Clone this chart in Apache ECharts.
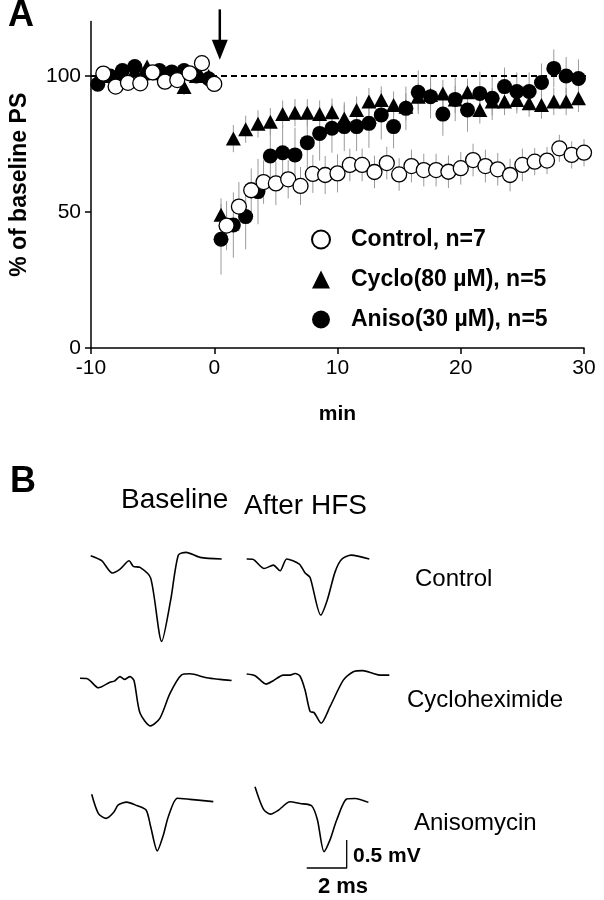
<!DOCTYPE html>
<html><head><meta charset="utf-8">
<script src="https://cdn.jsdelivr.net/npm/echarts@6/dist/echarts.min.js"></script>
<style>html,body{margin:0;padding:0;background:#fff}#c{width:604px;height:900px}</style>
</head><body><div id="c"></div>
<script>
// ---------- Panel A data ----------
const xTicks = [-10, 0, 10, 20, 30];
const yTicks = [0, 50, 100];
const ctrlTime = [-9,-8,-7,-6,-5,-4,-3,-2,-1,0,1,2,3,4,5,6,7,8,9,10,11,12,13,14,15,16,17,18,19,20,21,22,23,24,25,26,27,28,29,30];
const ctrlMean = [100.9,96.1,97.5,97.3,101.3,97.9,98.5,101,104.7,97.1,
  45,52,58,61,60.5,62,59.6,64,63.6,64.2,67.3,67.3,64.7,68,63.8,66.9,65.4,65.4,64.8,66.1,69.1,66.9,65.7,63.6,67.3,68.5,68.9,73.4,71,71.8];
const ctrlSem = [2,2,3,2,2,3,2,2,2,3,
  9,9,8,8,8,7,7,7,7,7,6,6,6,6,6,6,6,6,6,6,6,6,6,6,6,5,5,5,5,5];
const drugTime = [-9.45,-8.45,-7.45,-6.45,-5.45,-4.45,-3.45,-2.45,-1.45,-0.45,
  0.55,1.55,2.55,3.55,4.55,5.55,6.55,7.55,8.55,9.55,10.55,11.55,12.55,13.55,14.55,15.55,16.55,17.55,18.55,19.55,
  20.55,21.55,22.55,23.55,24.55,25.55,26.55,27.55,28.55,29.55];
const cycloMean = [99,100,101,102,103.5,101,100,96,100,100,
  49,77,80.4,82.4,83.2,86,86.5,86.5,86,86.7,84.4,87.5,90.6,91.2,89.3,88.7,92.4,93,93.6,91.4,
  94,87.5,90.6,90.6,91.2,90,89.3,90.6,90.6,91.8];
const cycloSem = [2,2,2,2,2,2,2,3,2,2,
  6,5,5,5,5,5,5,5,5,5,5,5,5,5,5,5,5,5,5,5,5,5,5,5,5,5,5,5,5,5];
const anisoMean = [97,100,102,103.5,101,102,101.5,102,100,99,
  40,45.2,48.3,57.5,70.6,71.8,71,75.5,78.9,80.8,81.4,81.4,82.6,85.7,81.4,88.1,94,92.4,86,91.4,
  87.5,93.6,91.8,96.1,94.3,94.3,97.6,102.8,100,99.1];
const anisoSem = [2,2,2,2,2,2,2,2,2,2,
  13,12,12,12,11,10,10,10,10,9,9,9,9,9,8,8,8,8,8,8,8,8,8,7,7,7,7,7,7,7];
const baselineRef = [[-10,100],[31.3,100]];
const hfsArrow = [[0.45,124.5,106]]; // time, top, tip
const seriesNames = ['Control, n=7','Cyclo(80 \u00B5M), n=5','Aniso(30 \u00B5M), n=5'];

// ---------- Panel B traces [ms, mV] ----------
const ctrlBaseTrace = [[0,0],[0.55,-0.09],[1.08,-0.31],[1.47,-0.24],[1.92,-0.09],[2.13,-0.19],[2.47,-0.21],[3.0,-0.4],[3.55,-1.53],[4.0,-0.79],[4.38,0.01],[4.77,0.06],[5.47,-0.03],[6.55,-0.06]];
const ctrlHfsTrace = [[0,0],[0.3,-0.005],[0.87,-0.17],[1.33,-0.11],[1.67,-0.21],[2.0,0],[2.63,-0.09],[2.92,-0.25],[3.17,-0.33],[3.7,-1.0],[4.03,-0.73],[4.42,-0.23],[4.75,-0.005],[5.22,0.07],[6.13,0]];
const cycloBaseTrace = [[0,0],[0.37,-0.007],[0.92,-0.17],[1.5,-0.07],[1.72,-0.05],[2.0,0.03],[2.22,-0.02],[2.5,0.03],[2.7,-0.04],[3.0,-0.62],[3.53,-0.85],[4.0,-0.71],[4.5,-0.27],[5.08,0.06],[5.5,0.08],[6.33,0.01],[7.0,-0.02],[7.58,-0.04]];
const cycloHfsTrace = [[0,0],[0.42,-0.03],[0.97,-0.18],[1.33,-0.12],[1.83,-0.02],[2.17,-0.02],[2.42,0.01],[2.67,-0.04],[2.92,-0.29],[3.17,-0.67],[3.37,-0.69],[3.72,-0.88],[4.17,-0.58],[4.83,-0.11],[5.33,0.04],[5.8,0.06],[6.33,0.01],[6.67,-0.02],[7.13,-0.02]];
const anisoBaseTrace = [[0,0],[0.33,-0.34],[0.72,-0.43],[1.08,-0.33],[1.33,-0.19],[1.75,-0.14],[2.25,-0.2],[2.72,-0.28],[2.95,-0.58],[3.28,-1.01],[3.58,-0.73],[3.83,-0.4],[4.28,-0.07],[4.92,-0.09],[6.08,-0.13]];
const anisoHfsTrace = [[0,0],[0.42,-0.4],[0.78,-0.49],[1.17,-0.42],[1.75,-0.27],[2.25,-0.3],[2.83,-0.34],[3.12,-0.59],[3.45,-1.16],[3.75,-0.95],[4.08,-0.6],[4.58,-0.22],[5.0,-0.21],[5.67,-0.28]];
const scaleBarMs = 2;
const scaleBarMv = 0.5;

// ---------- build ----------
const FONT = "'Liberation Sans', Arial, sans-serif";
const chart = echarts.init(document.getElementById('c'), null, {renderer:'canvas'});

function pts(t, m){ return t.map((x,i)=>[x,m[i]]); }
function errs(t, m, s){ return t.map((x,i)=>[x, m[i]-s[i], m[i]+s[i]]); }

const grids = [{left:89, top:21.6, width:495, height:326.4}];
const xAxes = [{
  gridIndex:0, type:'value', min:-10, max:30, interval:10,
  axisLine:{show:true, onZero:false, lineStyle:{color:'#000', width:1.5}},
  axisTick:{show:true, inside:false, length:6, lineStyle:{color:'#000', width:1.5}},
  axisLabel:{color:'#000', fontSize:21, fontFamily:FONT, margin:10, customValues:xTicks},
  splitLine:{show:false},
  name:'min', nameLocation:'middle', nameGap:56,
  nameTextStyle:{color:'#000', fontSize:21, fontWeight:'bold', fontFamily:FONT}
}];
const yAxes = [{
  gridIndex:0, type:'value', min:0, max:120,
  axisLine:{show:true, onZero:false, lineStyle:{color:'#000', width:1.5}},
  axisTick:{show:true, inside:false, length:6, lineStyle:{color:'#000', width:1.5}, customValues:yTicks},
  axisLabel:{color:'#000', fontSize:21, fontFamily:FONT, margin:10, customValues:yTicks},
  splitLine:{show:false},
  name:'% of baseline PS', nameLocation:'middle', nameGap:60, nameRotate:90,
  nameTextStyle:{color:'#000', fontSize:23, fontWeight:'bold', fontFamily:FONT}
}];

function errSeries(data){
  return {
    type:'custom', xAxisIndex:0, yAxisIndex:0, data:data, z:1, silent:true,
    encode:{x:0, y:[1,2]},
    renderItem:function(params, api){
      const a = api.coord([api.value(0), api.value(1)]);
      const b = api.coord([api.value(0), api.value(2)]);
      return {type:'line', shape:{x1:a[0],y1:a[1],x2:b[0],y2:b[1]}, style:{stroke:'#9a9a9a', lineWidth:1}};
    }
  };
}

const series = [
  errSeries(errs(drugTime, cycloMean, cycloSem)),
  errSeries(errs(drugTime, anisoMean, anisoSem)),
  errSeries(errs(ctrlTime, ctrlMean, ctrlSem)),
  {type:'line', data:baselineRef, xAxisIndex:0, yAxisIndex:0, showSymbol:false, symbol:'none', clip:false, z:2,
   lineStyle:{color:'#000', width:2.2, type:[6,4]}, silent:true},
  {name:seriesNames[1], type:'scatter', data:pts(drugTime, cycloMean), symbol:'triangle', symbolSize:[15,14], symbolKeepAspect:true, z:3,
   itemStyle:{color:'#000', opacity:1}},
  {name:seriesNames[2], type:'scatter', data:pts(drugTime, anisoMean), symbol:'circle', symbolSize:15, symbolKeepAspect:true, z:4,
   itemStyle:{color:'#000', opacity:1}},
  {name:seriesNames[0], type:'scatter', data:pts(ctrlTime, ctrlMean), symbol:'circle', symbolSize:15, symbolKeepAspect:true, z:5,
   itemStyle:{color:'#fff', borderColor:'#000', borderWidth:1.3, opacity:1}},
  {type:'custom', xAxisIndex:0, yAxisIndex:0, data:hfsArrow, clip:false, z:6, silent:true,
   encode:{x:0, y:[1,2]},
   renderItem:function(params, api){
     const top = api.coord([api.value(0), api.value(1)]);
     const tip = api.coord([api.value(0), api.value(2)]);
     const hh = 20, hw = 8;
     return {type:'group', children:[
       {type:'line', shape:{x1:top[0],y1:top[1],x2:tip[0],y2:tip[1]-hh+2}, style:{stroke:'#000', lineWidth:2.5}},
       {type:'polygon', shape:{points:[[tip[0]-hw,tip[1]-hh],[tip[0]+hw,tip[1]-hh],[tip[0],tip[1]]]}, style:{fill:'#000'}}
     ]};
   }}
];

// Panel B trace grids (each in mV/ms at 20 px/ms, 56 px/mV)
const traceList = [
  {d:ctrlBaseTrace, left:90.7, ref:555.7},
  {d:ctrlHfsTrace, left:246.7, ref:559},
  {d:cycloBaseTrace, left:80, ref:678.3},
  {d:cycloHfsTrace, left:246.7, ref:674},
  {d:anisoBaseTrace, left:91.7, ref:794.3},
  {d:anisoHfsTrace, left:255, ref:786.7}
];
traceList.forEach((tr, i)=>{
  const gi = i+1;
  grids.push({left:tr.left, top:tr.ref - 0.4*56, width:160, height:112});
  xAxes.push({gridIndex:gi, type:'value', min:0, max:8, show:false});
  yAxes.push({gridIndex:gi, type:'value', min:-1.6, max:0.4, show:false});
  series.push({type:'line', xAxisIndex:gi, yAxisIndex:gi, data:tr.d, showSymbol:false, symbol:'none', smooth:0.25,
    lineStyle:{color:'#000', width:1.6}, silent:true, clip:false});
});
// scale bar in the last trace grid
const sbX = 4.585, sbY = -1.452;
series.push({type:'line', xAxisIndex:6, yAxisIndex:6, showSymbol:false, symbol:'none', clip:false, silent:true,
  data:[[sbX - scaleBarMs, sbY],[sbX, sbY],[sbX, sbY + scaleBarMv]],
  lineStyle:{color:'#000', width:1.3}});

function txt(x, y, s, size, bold, align){
  return {type:'text', x:x, y:y, style:{text:s, fill:'#000', font:(bold?'bold ':'')+size+'px '+FONT,
    textVerticalAlign:'middle', textAlign:align||'left'}};
}

chart.setOption({
  animation:false,
  backgroundColor:'#fff',
  grid:grids, xAxis:xAxes, yAxis:yAxes, series:series,
  legend:{
    data:seriesNames, orient:'vertical', left:311, top:228, padding:0,
    itemWidth:18, itemHeight:18, itemGap:17, selectedMode:false,
    textStyle:{color:'#000', fontSize:23, fontWeight:'bold', fontFamily:FONT, lineHeight:18, padding:[0,0,0,16]}
  },
  graphic:[
    txt(8, 16, 'A', 36, true),
    txt(10, 482, 'B', 36, true),
    txt(121, 500, 'Baseline', 28, false),
    txt(244, 506, 'After HFS', 28, false),
    txt(415, 579, 'Control', 24, false),
    txt(407, 700, 'Cycloheximide', 24, false),
    txt(414, 823, 'Anisomycin', 24, false),
    txt(353, 856, '0.5 mV', 21, true),
    txt(343, 887, '2 ms', 22, true, 'center')
  ]
});
</script></body></html>
